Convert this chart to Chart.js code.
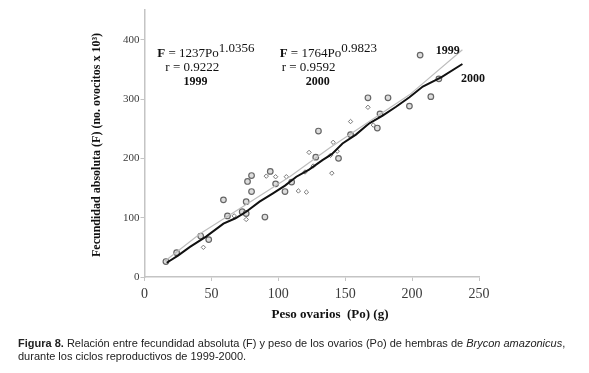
<!DOCTYPE html>
<html>
<head>
<meta charset="utf-8">
<script src="https://cdn.jsdelivr.net/npm/chart.js@4"></script>
<style>
    body { margin: 0; background: #fff; }
    #wrap { position: relative; width: 589px; height: 373px; }
    #caption {
        position: absolute; left: 18px; top: 337px;
        font-family: "Liberation Sans", Arial, sans-serif;
        font-size: 11px; line-height: 13px; color: #222;
    }
</style>
</head>
<body>
<div id="wrap">
    <canvas id="chart" width="589" height="373"></canvas>
    <div id="caption"><b>Figura 8.</b> Relación entre fecundidad absoluta (F) y peso de los ovarios (Po) de hembras de <i>Brycon amazonicus</i>,<br>durante los ciclos reproductivos de 1999-2000.</div>
</div>
<script>
// measured points, open circles
const circlePts = [
    [16, 26], [24, 41], [42, 69], [48, 63], [59, 130], [62, 103], [73, 110],
    [76, 127], [76, 107], [77, 161], [80, 144], [80, 171], [90, 101], [94, 178],
    [98, 157], [105, 144], [110, 160], [128, 202], [130, 246], [145, 200],
    [154, 240], [167, 302], [174, 251], [176, 275], [182, 302], [198, 288],
    [206, 374], [214, 304], [220, 334]
];
// smaller markers
const smallPts = [
    [44, 50], [67, 103], [76, 97], [91, 170], [98, 169], [106, 169], [115, 145],
    [121, 143], [120, 177], [123, 210], [126, 187], [139, 205], [140, 175],
    [141, 227], [144, 212], [154, 262], [167, 286], [171, 256]
];
// fitted curves
const line1999 = [
    [15.4, 27], [41.5, 73], [76, 122], [108.5, 169], [138, 217], [168, 262],
    [198, 307], [237.6, 383]
];
const line2000 = [
    [16.6, 24], [25, 36], [34, 50.7], [46, 68], [59, 90], [68, 99], [76, 110],
    [86, 127], [96, 141], [105, 154], [113.5, 169], [123, 181], [133, 197],
    [140, 207], [148, 225], [158, 240], [168, 259], [178, 272], [188, 287],
    [198, 303], [208, 321], [222, 337], [237.6, 359]
];
const xTicks = [0, 50, 100, 150, 200, 250];
const yTicks = [0, 100, 200, 300, 400];

const toXY = (arr) => arr.map((p) => ({ x: p[0], y: p[1] }));

// text drawn on top of the plot (value coords); lead = bold leading part
const notes = [
    { x: 9.5, y: 376, lead: "F", text: " = 1237Po", sup: "1.0356" },
    { x: 15.6, y: 353, text: "r = 0.9222" },
    { x: 29.2, y: 329, text: "1999", bold: true },
    { x: 101, y: 376, lead: "F", text: " = 1764Po", sup: "0.9823" },
    { x: 102.5, y: 353, text: "r = 0.9592" },
    { x: 120.5, y: 329, text: "2000", bold: true },
    { x: 217.7, y: 381, text: "1999", bold: true },
    { x: 236.5, y: 334, text: "2000", bold: true }
];

const serif = " 'Liberation Serif', 'Times New Roman', serif";

const textPlugin = {
    id: "notes",
    afterDraw(chart) {
        const ctx = chart.ctx;
        const xs = chart.scales.x, ys = chart.scales.y;
        ctx.save();
        ctx.fillStyle = "#111";
        ctx.textBaseline = "middle";
        ctx.textAlign = "left";
        notes.forEach((n) => {
            let px = xs.getPixelForValue(n.x);
            const py = ys.getPixelForValue(n.y);
            if (n.lead) {
                ctx.font = "bold 13px" + serif;
                ctx.fillText(n.lead, px, py);
                px += ctx.measureText(n.lead).width;
            }
            ctx.font = (n.bold ? "bold 12px" : "13px") + serif;
            ctx.fillText(n.text, px, py);
            if (n.sup) {
                const w = ctx.measureText(n.text).width;
                ctx.fillText(n.sup, px + w, py - 5);
            }
        });
        // axis titles
        ctx.font = "bold 13px" + serif;
        ctx.textAlign = "center";
        ctx.fillText("Peso ovarios  (Po) (g)", 330, 315);
        ctx.translate(97, 145);
        ctx.rotate(-Math.PI / 2);
        ctx.font = "bold 12px" + serif;
        ctx.fillText("Fecundidad absoluta (F) (no. ovocitos x 10\u00b3)", 0, 0);
        ctx.restore();
    }
};

new Chart(document.getElementById("chart").getContext("2d"), {
    type: "scatter",
    data: {
        datasets: [
            {
                type: "line",
                data: toXY(line1999),
                borderColor: "#bdbdbd",
                borderWidth: 1.2,
                pointRadius: 0,
                tension: 0
            },
            {
                type: "line",
                data: toXY(line2000),
                borderColor: "#111",
                borderWidth: 2,
                pointRadius: 0,
                tension: 0
            },
            {
                data: toXY(circlePts),
                pointStyle: "circle",
                pointRadius: 2.8,
                borderColor: "#666",
                borderWidth: 1.2,
                backgroundColor: "#ddd"
            },
            {
                data: toXY(smallPts),
                pointStyle: "rectRot",
                pointRadius: 2.2,
                borderColor: "#777",
                borderWidth: 1,
                backgroundColor: "#fff"
            }
        ]
    },
    options: {
        responsive: false,
        animation: false,
        layout: { padding: { left: 0, top: 10, right: 110, bottom: 0 } },
        plugins: { legend: { display: false }, tooltip: { enabled: false } },
        scales: {
            x: {
                type: "linear",
                min: 0,
                max: 250,
                afterBuildTicks: (s) => { s.ticks = xTicks.map((v) => ({ value: v })); },
                afterFit: (s) => { s.height = 96; },
                grid: { drawOnChartArea: false, tickLength: 4, color: "#c4c4c4" },
                border: { color: "#c4c4c4", width: 1.5 },
                ticks: {
                    padding: 5,
                    color: "#3a3a3a",
                    font: { family: "'Liberation Serif', serif", size: 14 }
                }
            },
            y: {
                min: 0,
                max: 450,
                afterBuildTicks: (s) => { s.ticks = yTicks.map((v) => ({ value: v })); },
                afterFit: (s) => { s.width = 144.5; },
                grid: { drawOnChartArea: false, tickLength: 4, color: "#c4c4c4" },
                border: { color: "#c4c4c4", width: 1.5 },
                ticks: {
                    padding: 1,
                    color: "#3a3a3a",
                    font: { family: "'Liberation Serif', serif", size: 11 }
                }
            }
        }
    },
    plugins: [textPlugin]
});
</script>
</body>
</html>
